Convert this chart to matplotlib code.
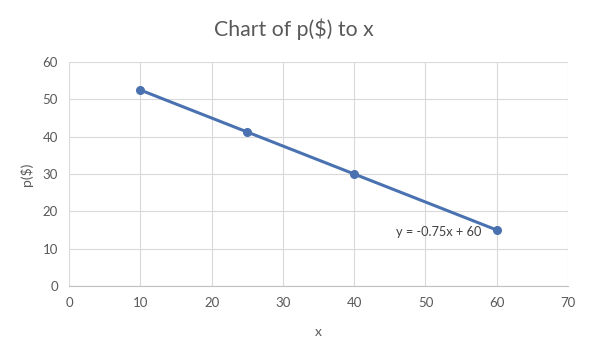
import matplotlib.pyplot as plt

plt.rcParams['font.family'] = ['Lato', 'DejaVu Sans']

x = [10, 25, 40, 60]
p = [52.5, 41.25, 30, 15]
xticks = [0, 10, 20, 30, 40, 50, 60, 70]
yticks = [0, 10, 20, 30, 40, 50, 60]

grey = '#595959'
fig = plt.figure(figsize=(5.92, 3.58), dpi=100)
ax = fig.add_axes([0.1166, 0.2011, 0.8429, 0.6257])

ax.plot(x, p, color='#4A72B0', linewidth=2.2, marker='o', markersize=5.5, zorder=3)
ax.text(51.9, 14.5, 'y = -0.75x + 60', fontsize=9.2, color='#404040', ha='center', va='center')

ax.set_xlim(0, 70)
ax.set_ylim(0, 60)
ax.set_xticks(xticks)
ax.set_yticks(yticks)
ax.grid(True, color='#D9D9D9', linewidth=0.8)
ax.set_axisbelow(True)
for s in ['top', 'right', 'left']:
    ax.spines[s].set_visible(False)
ax.spines['bottom'].set_color('#BFBFBF')
ax.tick_params(length=0, colors=grey, labelsize=9.5, pad=8)

ax.set_xlabel('x', color=grey, fontsize=10, labelpad=12)
ax.set_ylabel('p($)', color=grey, fontsize=10, labelpad=7)
fig.text(0.497, 0.918, 'Chart of p($) to x', ha='center', va='center', fontsize=15.3, color=grey)

fig.savefig('out.png', dpi=100)
